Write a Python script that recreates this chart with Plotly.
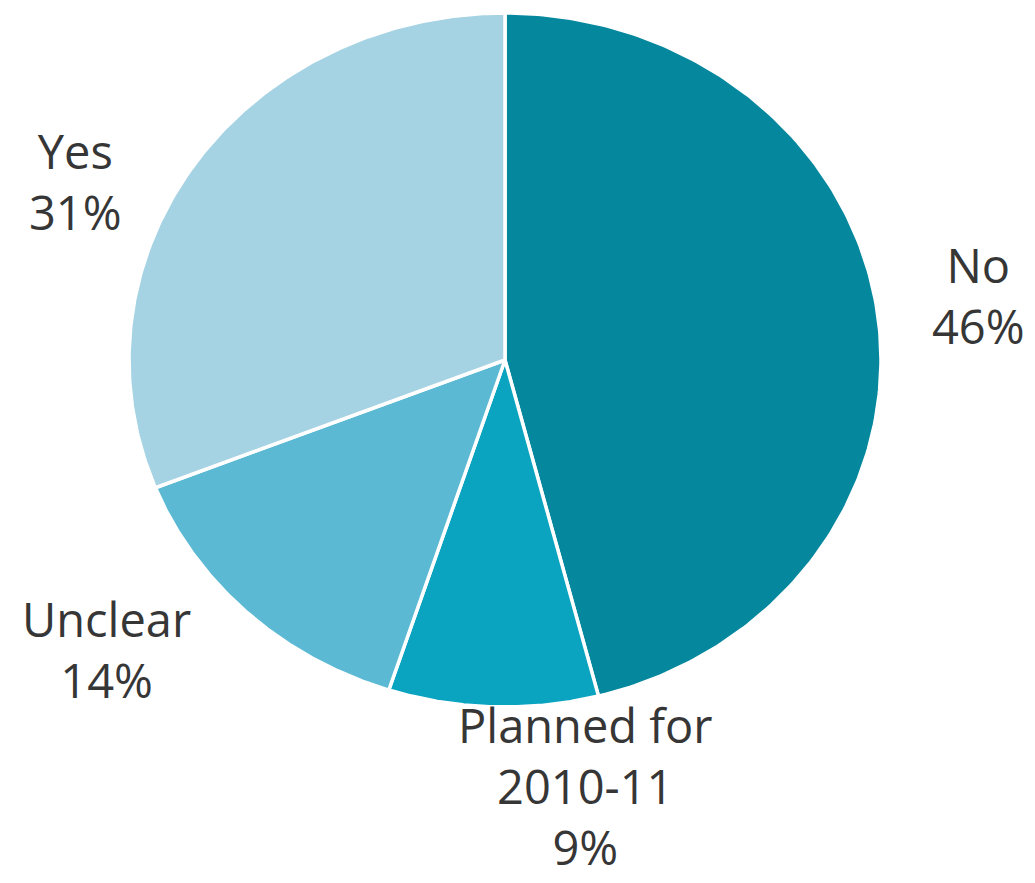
import numpy as np
import plotly.graph_objects as go

# Survey answers, clockwise from 12 o'clock
categories = ["No", "Planned for<br>2010-11", "Unclear", "Yes"]
shares = [46, 9, 14, 31]
colors = ["#05889E", "#0AA3C0", "#5BB9D4", "#A6D3E3"]

# label anchor positions in axis units (unit-circle pie centred at 0,0)
label_pos = [(1.258, 0.185), (0.215, -1.228), (-1.06, -0.835), (-1.142, 0.515)]

W, H = 1035, 883
cx, cy = 505, 360          # pie centre in pixels
rx, ry = 376, 347          # horizontal / vertical radius in pixels

fig = go.Figure()

total = sum(shares)
start = 0.0
for name, val, col in zip(categories, shares, colors):
    frac0 = start / total
    frac1 = (start + val) / total
    t = np.linspace(frac0, frac1, 200) * 2 * np.pi
    xs = np.concatenate([[0], np.sin(t), [0]])
    ys = np.concatenate([[0], np.cos(t), [0]])
    fig.add_trace(go.Scatter(
        x=xs, y=ys, mode="lines", fill="toself",
        fillcolor=col, line=dict(color="white", width=3.5),
        name=name.replace("<br>", " "), hoverinfo="name",
        showlegend=False,
    ))
    start += val

for name, val, (lx, ly) in zip(categories, shares, label_pos):
    fig.add_annotation(
        x=lx, y=ly, text=f"{name}<br>{val}%", showarrow=False,
        font=dict(family="Open Sans, sans-serif", size=47, color="#363636"),
        align="center", xanchor="center", yanchor="middle",
    )

fig.update_layout(
    width=W, height=H,
    margin=dict(l=0, r=0, t=0, b=0),
    paper_bgcolor="white", plot_bgcolor="white",
    xaxis=dict(range=[-cx / rx, (W - cx) / rx], visible=False, fixedrange=True),
    yaxis=dict(range=[-(H - cy) / ry, cy / ry], visible=False, fixedrange=True),
)

fig.write_html("out.html")
